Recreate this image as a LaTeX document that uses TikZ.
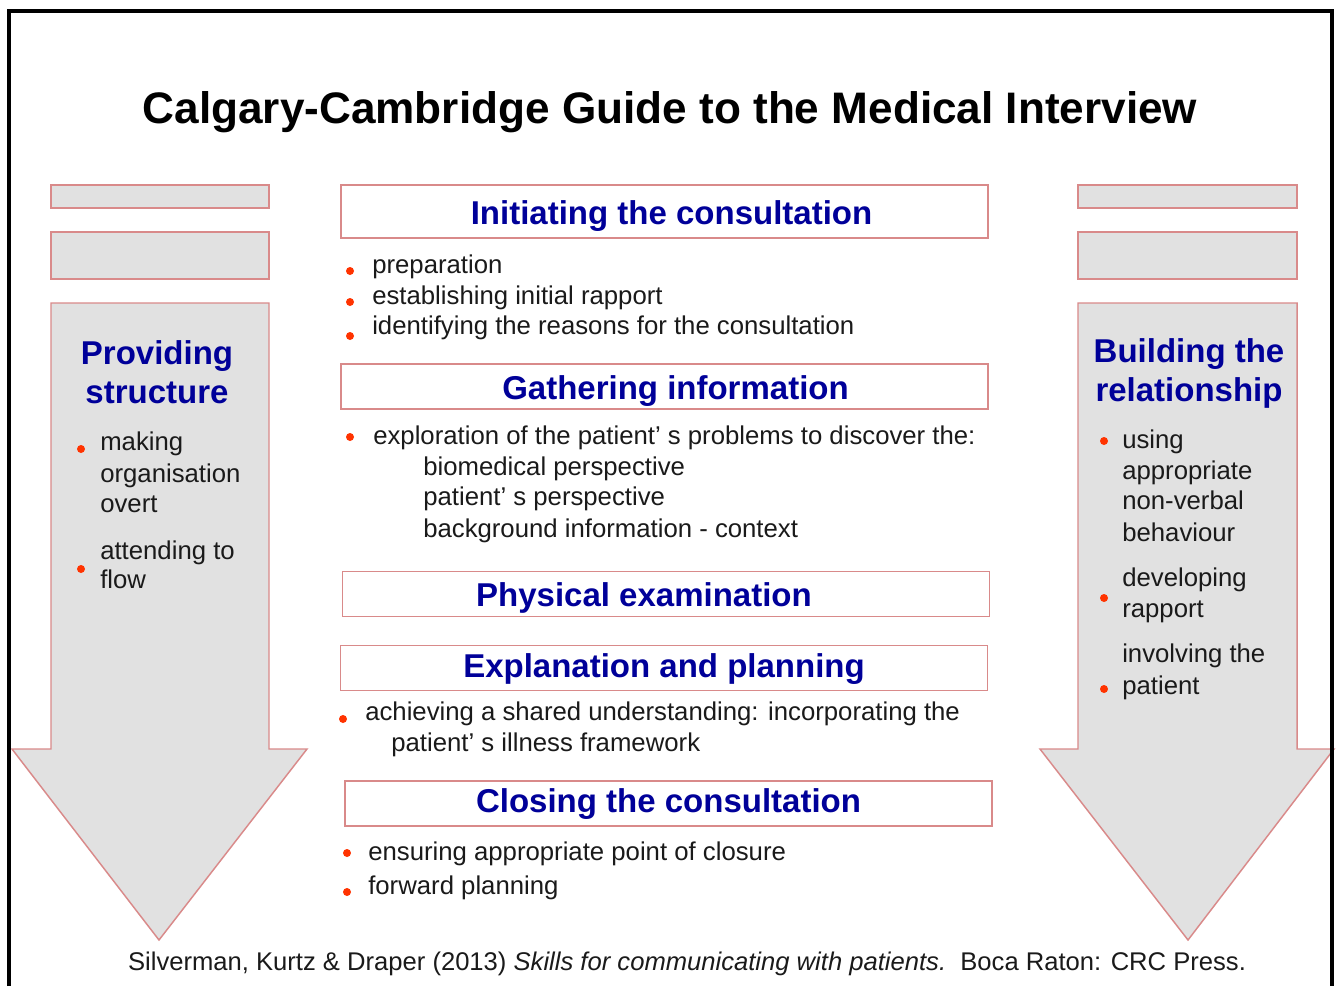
\documentclass[tikz,border=0pt]{standalone}
\usepackage{fontspec}
\setmainfont{Liberation Sans}
\usetikzlibrary{positioning}
\definecolor{cgBlue}{HTML}{000099}
\definecolor{cgRed}{HTML}{FF3300}
\definecolor{cgEdge}{HTML}{D98A8A}
\definecolor{cgGrey}{HTML}{E1E1E1}
\definecolor{cgText}{HTML}{1A1A1A}
\tikzset{
  cgtitle/.style={font=\fontsize{33.1}{38}\selectfont\bfseries, anchor=base},
  stage/.style={
    draw=cgEdge, fill=white, line width=1.1pt, minimum width=485pt,
    minimum height=33.5pt, inner sep=0pt, text=cgBlue,
    text height=24pt, text depth=5.2pt,
    font=\fontsize{24.75}{29}\selectfont\bfseries
  },
  sidehead/.style={text=cgBlue, align=center, font=\fontsize{24.75}{29.25}\selectfont\bfseries},
  sidebar/.style={draw=cgEdge, fill=cgGrey, line width=1.1pt},
  itemtext/.style={anchor=base west, inner sep=0pt, text=cgText, font=\fontsize{19.3}{23}\selectfont},
  cite/.style={anchor=base, inner sep=0pt, text=cgText, font=\fontsize{19.2}{23}\selectfont},
  dot/.style={fill=cgRed},
  frame/.style={line width=2.4pt, black}
}
\begin{document}
\begin{tikzpicture}[x=0.75pt, y=-0.75pt]
  \useasboundingbox (0,0) rectangle (1338,986);
  \fill[white] (0,0) rectangle (1338,986);

  \node[cgtitle] (title) at (670,123) {Calgary-Cambridge Guide to the Medical Interview};

  % side columns: two bars and a down arrow each
  \draw[sidebar] (51,185) rectangle (269,208);
  \draw[sidebar] (51,232) rectangle (269,279);
  \draw[sidebar] (51,303) -- (269,303) -- (269,749) -- (307,749) -- (159,940)
    -- (12,749) -- (51,749) -- cycle;
  \draw[sidebar] (1078,185) rectangle (1297,208);
  \draw[sidebar] (1078,232) rectangle (1297,279);
  \draw[sidebar] (1078,303) -- (1297,303) -- (1297,749) -- (1334,749) -- (1188,940)
    -- (1040,749) -- (1078,749) -- cycle;

  \node[sidehead] (struct) at (157,372) {Providing\\structure};
  \node[itemtext] (struct1) at (100,450) {making};
  \node[itemtext] (struct2) at (100,482) {organisation};
  \node[itemtext] (struct3) at (100,512) {overt};
  \node[itemtext] (struct4) at (100,559) {attending to};
  \node[itemtext] (struct5) at (100,588) {flow};

  \node[sidehead] (relat) at (1189,373) {Building the\\relationship};
  \node[itemtext] (relat1) at (1122,448) {using};
  \node[itemtext] (relat2) at (1122,479) {appropriate};
  \node[itemtext] (relat3) at (1122,509) {non-verbal};
  \node[itemtext] (relat4) at (1122,541) {behaviour};
  \node[itemtext] (relat5) at (1122,586) {developing};
  \node[itemtext] (relat6) at (1122,617) {rapport};
  \node[itemtext] (relat7) at (1122,662) {involving the};
  \node[itemtext] (relat8) at (1122,694) {patient};

  % the five stages down the middle
  \node[stage, minimum height=39.75pt] (init) at (664.5,211.5)
    {\hspace*{10.5pt}Initiating the consultation};
  \node[itemtext] (init1) at (372,273) {preparation};
  \node[itemtext] (init2) at (372,304) {establishing initial rapport};
  \node[itemtext] (init3) at (372,334) {identifying the reasons for the consultation};

  \node[stage] (gather) at (664.5,386.5) {\hspace*{16.5pt}Gathering information};
  \node[itemtext] (gather1) at (373,444) {exploration of the patient’ s problems to discover the:};
  \node[itemtext] (gather2) at (423,475) {biomedical perspective};
  \node[itemtext] (gather3) at (423,505) {patient’ s perspective};
  \node[itemtext] (gather4) at (423,537) {background information - context};

  \node[stage] (exam) at (666,594) {Physical examination\hspace*{33pt}};

  \node[stage, text height=19.5pt] (explain) at (664,668) {Explanation and planning};
  \node[itemtext] (explain1) at (365,720) {achieving a shared understanding: incorporating the};
  \node[itemtext] (explain2) at (391,751) {patient’ s illness framework};

  \node[stage, text height=18pt] (close) at (668.5,803.5) {Closing the consultation};
  \node[itemtext] (close1) at (368,860) {ensuring appropriate point of closure};
  \node[itemtext] (close2) at (368,894) {forward planning};

  \foreach \p in {(81,449),(81,569),(1104,441),(1104,598),(1104,689),
                  (350,271),(350,302),(350,336),(350,437),(343,719),(347,853),(347,892)}
    \fill[dot] \p circle[radius=3pt];

  \node[cite] (ref) at (687,970) {Silverman, Kurtz \& Draper (2013) \textit{Skills for communicating with patients.}\ \ Boca Raton: CRC Press.};

  \draw[frame] (9,986) -- (9,11) -- (1332,11) -- (1332,986);
\end{tikzpicture}
\end{document}
